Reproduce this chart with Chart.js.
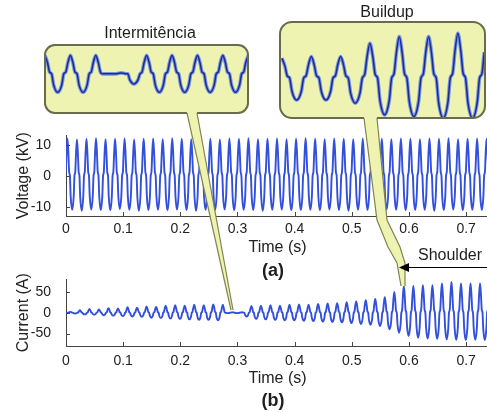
<!DOCTYPE html>
<html>
<head>
<meta charset="utf-8">
<script src="https://cdn.jsdelivr.net/npm/chart.js@4.4.1/dist/chart.umd.min.js"></script>
<style>
  html, body { margin: 0; padding: 0; background: #fff; overflow: hidden; }
  #fig { position: relative; width: 487px; height: 412px; overflow: hidden; }
  #fig canvas { position: absolute; }
  .lbl { position: absolute; font-family: "Liberation Sans", Arial, sans-serif; font-size: 16px;
         color: #1e1e1e; white-space: nowrap; transform: translate(-50%, -50%); z-index: 5; }
  .cap { font-weight: bold; font-size: 18px; }
</style>
</head>
<body>
<div id="fig">
  <canvas id="voltChart" width="490" height="141" style="left:0;top:120px;z-index:1"></canvas>
  <canvas id="currChart" width="490" height="128" style="left:0;top:264px;z-index:1"></canvas>
  <canvas id="balloons" width="490" height="412" style="left:0;top:0;z-index:2"></canvas>
  <canvas id="insetInt" width="201" height="66" style="left:46px;top:46px;z-index:3"></canvas>
  <canvas id="insetBld" width="203" height="94" style="left:281px;top:23px;z-index:3"></canvas>
  <div class="lbl" style="left:150px;top:33px">Intermitência</div>
  <div class="lbl" style="left:387px;top:12px">Buildup</div>
  <div class="lbl" style="left:450px;top:255px">Shoulder</div>
  <div class="lbl cap" style="left:273px;top:270px">(a)</div>
  <div class="lbl cap" style="left:273px;top:400px">(b)</div>
</div>
<script>
// valores
const lineFreq = 60;              // Hz
const timeMax = 0.74;             // s
const timeTicks = [0, 0.1, 0.2, 0.3, 0.4, 0.5, 0.6, 0.7];
const timeTickLabels = ['0', '0.1', '0.2', '0.3', '0.4', '0.5', '0.6', '0.7'];
const voltTicks = [-10, 0, 10];
const currTicks = [-50, 0, 50];

// forma de um ciclo (pico -> ombro -> vale -> ombro -> pico)
const shapePhase = [0, 0.1, 0.18, 0.26, 0.34, 0.5, 0.66, 0.74, 0.82, 0.9];
const shapeLevel = [1, 0.6, 0.1, 0, 0.6, 1, 0.6, 0, 0.1, 0.6];
const shapeRef   = ['P', 'P', 'P', 'Z', 'T', 'T', 'T', 'Z', 'N', 'N'];

// tensão (kV), um pico / vale por ciclo, ciclos -1..45
const voltPhase = 0.15;
const voltPeaks = [11.8, 12.0, 11.7, 11.9, 12.1, 11.8, 11.9, 12.0, 11.7, 11.9,
                   12.0, 11.8, 12.1, 11.9, 11.8, 12.0, 11.9, 11.7, 12.0, 11.9,
                   12.1, 11.8, 11.9, 12.0, 11.8, 11.9, 12.1, 11.9, 11.8, 12.0,
                   11.9, 11.8, 12.0, 12.1, 11.9, 11.8, 12.0, 11.9, 11.8, 12.0,
                   11.9, 12.1, 11.8, 11.9, 12.0, 11.9, 11.8];
const voltTroughs = [-11.2, -11.0, -11.3, -10.9, -11.1, -11.2, -10.8, -11.0, -11.3, -11.1,
                     -11.0, -11.2, -10.9, -11.1, -11.3, -11.0, -11.1, -10.9, -11.2, -11.0,
                     -11.1, -11.3, -11.0, -10.9, -11.2, -11.1, -11.0, -11.2, -10.9, -11.1,
                     -11.3, -11.0, -11.1, -11.2, -10.9, -11.0, -11.2, -11.1, -11.0, -11.3,
                     -11.1, -10.9, -11.2, -11.0, -11.1, -11.2];

// corrente (A), ciclos -1..45
const currPhase = 0.46;
const currPeaks = [1, 2, 6, 9, 8, 11, 10, 13, 12, 15,
                   14, 17, 18, 17, 19, 18, 20, 19, 1, 1,
                   16, 17, 18, 17, 19, 20, 19, 21, 22, 23,
                   25, 27, 30, 33, 37, 50, 64, 64, 66, 66,
                   70, 74, 70, 70, 70, 70, 70];
const currTroughs = [-1, -2, -4, -5, -6, -7, -8, -9, -10, -12,
                     -13, -14, -15, -16, -17, -17, -18, -1, -1, -9,
                     -15, -16, -17, -18, -18, -19, -20, -21, -22, -23,
                     -25, -27, -29, -32, -40, -48, -56, -60, -62, -63,
                     -64, -65, -66, -65, -66, -66];

// detalhe "Intermitência" (ciclos 0..8, unidades relativas)
const intPeaks   = [1, 1, 1, 0.05, 1, 1, 1, 1, 1];
const intTroughs = [-1, -1, 0, -0.55, -1, -1, -1, -1];
// detalhe "Buildup" (ciclos 0..7)
const bldPeaks   = [0.94, 1.02, 1.02, 1.65, 1.97, 1.97, 2.13, 2.05];
const bldTroughs = [-1.05, -1.05, -1.2, -1.76, -1.84, -1.92, -1.92];

const fontFam = '"Liberation Sans", Arial, sans-serif';
const lineBlue = '#3350dc';

function waveform(peaks, troughs, firstCycle, phase, period) {
  const pts = [];
  troughs.forEach((tr, i) => {
    const amp = { P: peaks[i], T: tr, N: peaks[i + 1], Z: 0 };
    shapePhase.forEach((ph, k) => {
      pts.push({ x: (firstCycle + i + phase + ph) * period, y: shapeLevel[k] * amp[shapeRef[k]] });
    });
  });
  const last = troughs.length;
  pts.push({ x: (firstCycle + last + phase) * period, y: peaks[last] });
  return pts;
}

// marcas de escala para dentro (estilo MATLAB)
const insideTicks = {
  id: 'insideTicks',
  afterDraw(chart) {
    const { ctx, chartArea, scales } = chart;
    ctx.save();
    ctx.strokeStyle = '#444';
    ctx.lineWidth = 1;
    scales.x.ticks.forEach(t => {
      const px = Math.round(scales.x.getPixelForValue(t.value)) + 0.5;
      ctx.beginPath(); ctx.moveTo(px, chartArea.bottom); ctx.lineTo(px, chartArea.bottom - 4); ctx.stroke();
    });
    scales.y.ticks.forEach(t => {
      const py = Math.round(scales.y.getPixelForValue(t.value)) + 0.5;
      ctx.beginPath(); ctx.moveTo(chartArea.left, py); ctx.lineTo(chartArea.left + 4, py); ctx.stroke();
    });
    ctx.restore();
  }
};

function mainChart(id, points, yMin, yMax, yTicks, yTitle, xAxisHeight, labelPad) {
  return new Chart(document.getElementById(id), {
    type: 'line',
    data: { datasets: [{ data: points, borderColor: lineBlue, borderWidth: 1.9, pointRadius: 0,
                         cubicInterpolationMode: 'monotone', fill: false }] },
    options: {
      responsive: false, animation: false, events: [],
      layout: { padding: { left: 10, top: 11, right: 1, bottom: 0 } },
      plugins: { legend: { display: false }, tooltip: { enabled: false } },
      scales: {
        x: {
          type: 'linear', min: 0, max: timeMax,
          afterBuildTicks: s => { s.ticks = timeTicks.map(v => ({ value: v })); },
          afterFit: s => { s.height = xAxisHeight; },
          grid: { display: false },
          border: { display: true, color: '#444', width: 1 },
          ticks: { color: '#222', font: { family: fontFam, size: 14 }, padding: labelPad, maxRotation: 0,
                   autoSkip: false, callback: (v, i) => timeTickLabels[i] },
          title: { display: true, text: 'Time (s)', color: '#222', font: { family: fontFam, size: 16 },
                   padding: { top: 0, bottom: 4 } }
        },
        y: {
          type: 'linear', min: yMin, max: yMax,
          afterBuildTicks: s => { s.ticks = yTicks.map(v => ({ value: v })); },
          afterFit: s => { s.width = 56; },
          grid: { display: false },
          border: { display: true, color: '#444', width: 1 },
          ticks: { color: '#222', font: { family: fontFam, size: 14 }, padding: 7,
                   callback: v => String(v) },
          title: { display: true, text: yTitle, color: '#222', font: { family: fontFam, size: 16 },
                   padding: { top: 4, bottom: 0 } }
        }
      }
    },
    plugins: [insideTicks]
  });
}

function insetChart(id, points, xMin, xMax, yMin, yMax) {
  return new Chart(document.getElementById(id), {
    type: 'line',
    data: { datasets: [
      { data: points, borderColor: '#1b2a92', borderWidth: 1.5, pointRadius: 0, cubicInterpolationMode: 'monotone' },
      { data: points, borderColor: 'rgba(90,125,235,0.8)', borderWidth: 3.6, pointRadius: 0, cubicInterpolationMode: 'monotone' }
    ] },
    options: {
      responsive: false, animation: false, events: [],
      layout: { padding: 0 },
      plugins: { legend: { display: false }, tooltip: { enabled: false } },
      scales: {
        x: { type: 'linear', display: false, min: xMin, max: xMax },
        y: { type: 'linear', display: false, min: yMin, max: yMax }
      }
    }
  });
}

const period = 1 / lineFreq;
mainChart('voltChart', waveform(voltPeaks, voltTroughs, -1, voltPhase, period), -13, 13, voltTicks, 'Voltage (kV)', 45, -3);
mainChart('currChart', waveform(currPeaks, currTroughs, -1, currPhase, period), -80, 80, currTicks, 'Current (A)', 46, -1);
insetChart('insetInt', waveform(intPeaks, intTroughs, 0, 0, 1), 0.04, 7.95, -2.07, 1.51);
insetChart('insetBld', waveform(bldPeaks, bldTroughs, 0, 0, 1), -0.034, 6.89, -1.86, 2.62);

// balões de destaque
(function drawBalloons() {
  const ctx = document.getElementById('balloons').getContext('2d');
  const fillCol = '#eff3b2';
  const rectLine = '#6a6a4c';
  const tailLine = '#828450';

  function rect(x, y, w, h, r) {
    ctx.beginPath(); ctx.roundRect(x, y, w, h, r);
    ctx.fillStyle = fillCol; ctx.fill();
    ctx.lineWidth = 2; ctx.strokeStyle = rectLine; ctx.stroke();
  }
  function tail(left, right) {
    ctx.beginPath();
    left.forEach((p, i) => i ? ctx.lineTo(p[0], p[1]) : ctx.moveTo(p[0], p[1]));
    right.slice().reverse().forEach(p => ctx.lineTo(p[0], p[1]));
    ctx.closePath();
    ctx.fillStyle = fillCol; ctx.fill();
    ctx.lineWidth = 1.2; ctx.strokeStyle = tailLine;
    [left, right].forEach(edge => {
      ctx.beginPath();
      edge.slice(1).forEach((p, i) => i ? ctx.lineTo(p[0], p[1]) : ctx.moveTo(p[0], p[1]));
      ctx.stroke();
    });
  }

  rect(45, 45, 203, 68, 10);
  tail([[187, 109], [187, 113], [231, 310]], [[197, 109], [197, 113], [233, 310]]);

  rect(280, 22, 205, 96, 12);
  tail([[364, 114], [364, 118], [377, 220], [388, 247], [397, 263], [401, 286]],
       [[377, 114], [377, 118], [387, 220], [400, 247], [405, 263], [405, 286]]);

  // seta "Shoulder"
  ctx.strokeStyle = '#000'; ctx.lineWidth = 1;
  ctx.beginPath(); ctx.moveTo(404, 267.5); ctx.lineTo(490, 267.5); ctx.stroke();
  ctx.fillStyle = '#000';
  ctx.beginPath(); ctx.moveTo(399, 267.5); ctx.lineTo(409, 263); ctx.lineTo(409, 272); ctx.closePath(); ctx.fill();
})();
</script>
</body>
</html>
